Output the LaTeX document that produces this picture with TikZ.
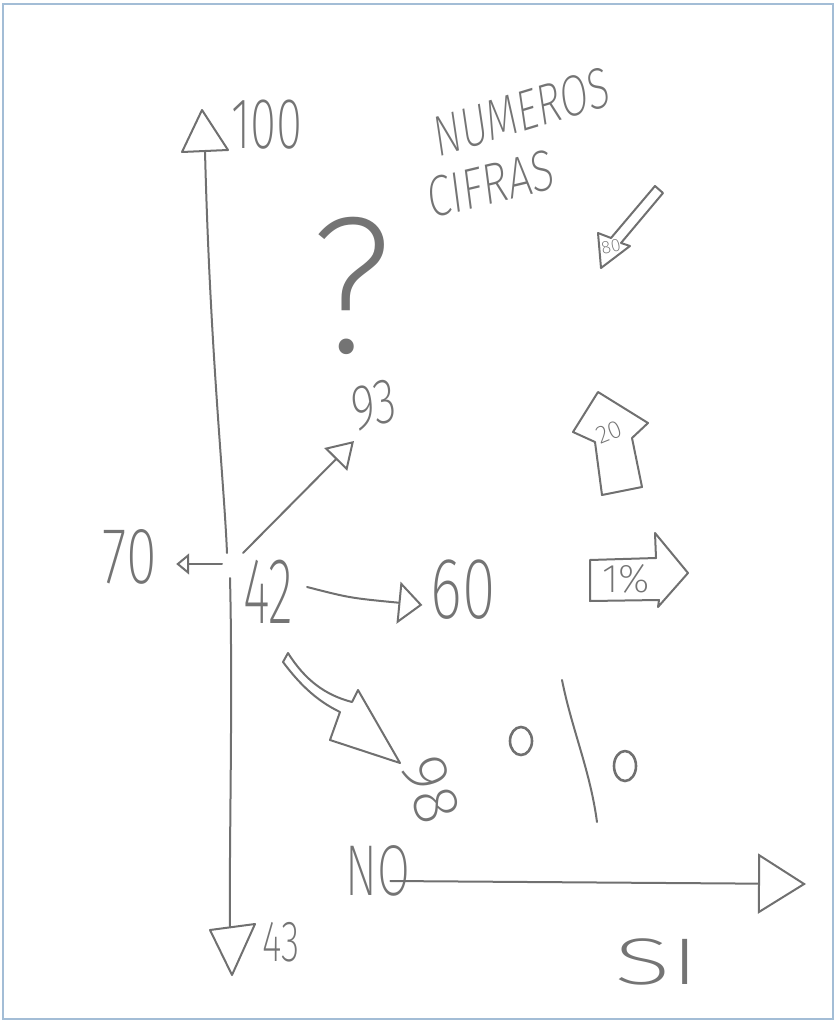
\documentclass[tikz,border=0pt]{standalone}
\usepackage{fontspec}
\newfontfamily\sketchfont{Fira Sans ExtraLight}
\usetikzlibrary{arrows.meta}
\definecolor{pencil}{HTML}{747474}
\definecolor{pencilink}{HTML}{707070}
\definecolor{sheetframe}{HTML}{A3BDD6}

\tikzset{
  pen/.style={draw=pencilink,line width=2pt,line join=round,line cap=round},
  scrawl/.style={text=pencil,inner sep=0pt,font=\sketchfont\fontsize{#1}{#1}\selectfont},
}

\begin{document}
\begin{tikzpicture}[x=1pt,y=-1pt]
\useasboundingbox (0,0) rectangle (836,1022);
\draw[sheetframe,line width=2.5pt] (3,4) rectangle (833,1019);

% labels
\node[scrawl=72,xscale=.66] (n100) at (267,125) {100};
\node[scrawl=58,xscale=.7,rotate=12] (numeros) at (522,112) {NUMEROS};
\node[scrawl=58,xscale=.74,rotate=10] (cifras) at (491,184) {CIFRAS};
\node[scrawl=195,xscale=.95] (ask) at (352,286) {?};
\node[scrawl=64,xscale=.72,rotate=10] (n93) at (374,405) {93};
\node[scrawl=80,xscale=.7] (n70) at (130,557) {70};
\node[scrawl=94,xscale=.55] (n42) at (268,592) {42};
\node[scrawl=87,xscale=.7] (n60) at (463,590) {60};
\node[scrawl=64,rotate=-72] (n98) at (431,790) {98};
\node[scrawl=72,xscale=.66] (nNO) at (378,871) {NO};
\node[scrawl=66,xscale=1.6] (nSI) at (657,962) {SI};
\node[scrawl=58,xscale=.65] (n43) at (281,942) {43};
\node[scrawl=18,rotate=12] (n80) at (611,247) {80};
\node[scrawl=25,rotate=22] (n20) at (609,432) {20};
\node[scrawl=40] (n1pc) at (626,579) {1\%};

% vertical axis
\coordinate (top) at (205,151);
\coordinate (bot) at (230,927);
\coordinate (gapa) at (227,553);
\coordinate (gapb) at (230,578);
\draw[pen] (top) .. controls (210,350) and (224,480) .. (gapa);
\draw[pen] (gapb) .. controls (233,700) and (229,850) .. (bot);
\draw[pen] (202,110) -- (182,152) -- (228,150) -- cycle;
\draw[pen] (210,930) -- (255,924) -- (232,975) -- cycle;

% arrows out of 42
\coordinate (fork) at (243,553);
\coordinate (split) at (222,564);
\draw[pen,-{Triangle[open,length=13pt,width=21pt]}] (split) -- ([shift={(19,7)}]n70.east);
\draw[pen,-{Triangle[open,length=26pt,width=32pt]}] (fork) -- ([shift={(-20,36)}]n93.center);
\draw[pen,-{Triangle[open,length=24pt,width=42pt]}] ([shift={(14,-5)}]n42.east)
  .. controls (350,598) .. ([shift={(-8,15)}]n60.west);

% NO -> SI
\coordinate (siend) at (806,884);
\draw[pen,-{Triangle[open,length=48pt,width=60pt]}] ([shift={(-20,10)}]nNO.east) -- (siend);

% block arrows
\draw[pen] (598,233) -- (611,238) -- (655,186) -- (663,193) -- (621,243) -- (630,246) -- (601,268) -- cycle;
\draw[pen] (595,442) -- (573,432) -- (598,392) -- (648,423) -- (632,438) -- (642,487) -- (602,495) -- cycle;
\draw[pen] (590,560) -- (656,558) -- (655,533) -- (688,573) -- (658,607) -- (659,600) -- (590,601) -- cycle;
\draw[pen] (288,653) .. controls (305,680) and (325,695) .. (352,702) -- (358,690) -- (400,763)
  -- (330,740) -- (340,712) .. controls (315,700) and (298,682) .. (283,662) -- cycle;

% percent sign
\draw[pen,line width=2.6pt] (521,741) ellipse [x radius=11pt,y radius=14pt];
\draw[pen] (562,680) .. controls (572,730) and (590,770) .. (597,822);
\draw[pen,line width=2.6pt] (625,766) ellipse [x radius=11pt,y radius=15pt];
\end{tikzpicture}
\end{document}
